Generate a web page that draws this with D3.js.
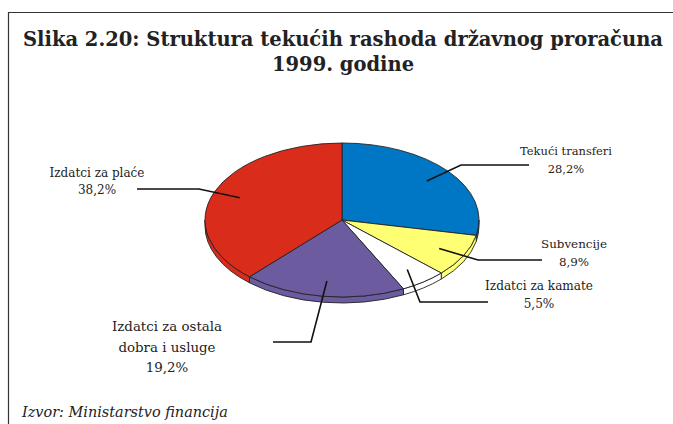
<!DOCTYPE html>
<html>
<head>
<meta charset="utf-8">
<script src="https://cdn.jsdelivr.net/npm/d3@7"></script>
<style>
  html, body { margin: 0; padding: 0; background: #fff; }
  svg { display: block; }
  text { font-family: "DejaVu Serif", serif; }
</style>
</head>
<body>
<svg id="chart" width="673" height="424"></svg>
<script>
// ---- data ----
const categories = ["Tekući transferi", "Subvencije", "Izdatci za kamate", "Izdatci za ostala|dobra i usluge", "Izdatci za plaće"];
const values = [28.2, 8.9, 5.5, 19.2, 38.2];
const valueLabels = ["28,2%", "8,9%", "5,5%", "19,2%", "38,2%"];
const colors = ["#0077C4", "#FFFF73", "#FFFFFF", "#6C5B9F", "#DA2C1B"];
const titleLines = ["Slika 2.20: Struktura tekućih rashoda državnog proračuna", "1999. godine"];
const sourceText = "Izvor: Ministarstvo financija";

// ---- layout ----
const W = 673, H = 424;
const cx = 342, cy = 220, rx = 137, ry = 77, depth = 6;
const layout = [
  { elbow: [461, 165], end: [529, 165], lx: 566, ly: 155, step: 18, tw: 92 },
  { elbow: [478, 260], end: [542, 260], lx: 574, ly: 248, step: 18, tw: 66 },
  { elbow: [420, 302], end: [488, 302], lx: 539, ly: 290, step: 18, tw: 108 },
  { elbow: [311, 342], end: [273, 342], lx: 167, ly: 331, step: 20.5, tw: 110 },
  { elbow: [199, 189], end: [137, 189], lx: 97, ly: 177, step: 17, tw: 95 }
];

const svg = d3.select("#chart");

svg.append("path")
  .attr("d", `M8.5,${H} L8.5,12.5 L${W},12.5`)
  .attr("fill", "none").attr("stroke", "#333").attr("stroke-width", 1.2);

function fit(sel, base, target, lo, hi) {
  const n = sel.select("tspan").node() || sel.node();
  const w = n.getComputedTextLength();
  sel.style("font-size", Math.max(lo, Math.min(hi, base * target / w)) + "px");
}

const title = svg.append("text")
  .attr("text-anchor", "middle")
  .style("font-weight", "bold")
  .style("font-size", "24px")
  .attr("fill", "#222");
title.selectAll("tspan").data(titleLines).join("tspan")
  .attr("x", 343).attr("y", (d, i) => 46 + i * 25)
  .text(d => d);
fit(title, 24, 640, 16, 25);

const pie = d3.pie().sort(null).value(d => d);
const arcs = pie(values);

const pt = (a, dy = 0, k = 1) => [cx + k * rx * Math.sin(a), cy - k * ry * Math.cos(a) + dy];
const f = p => p[0].toFixed(2) + "," + p[1].toFixed(2);

const gSide = svg.append("g");
const gTop = svg.append("g");

arcs.forEach((d, i) => {
  const s0 = Math.max(d.startAngle, Math.PI / 2);
  const s1 = Math.min(d.endAngle, 3 * Math.PI / 2);
  if (s1 > s0) {
    const large = (s1 - s0) > Math.PI ? 1 : 0;
    const p = `M${f(pt(s0))} A${rx},${ry} 0 ${large} 1 ${f(pt(s1))} L${f(pt(s1, depth))} A${rx},${ry} 0 ${large} 0 ${f(pt(s0, depth))} Z`;
    gSide.append("path").attr("d", p)
      .attr("fill", colors[i]).attr("stroke", "#222").attr("stroke-width", 0.9)
      .attr("stroke-linejoin", "round");
  }
  const large = (d.endAngle - d.startAngle) > Math.PI ? 1 : 0;
  const top = `M${cx},${cy} L${f(pt(d.startAngle))} A${rx},${ry} 0 ${large} 1 ${f(pt(d.endAngle))} Z`;
  gTop.append("path").attr("d", top)
    .attr("fill", colors[i]).attr("stroke", "#222").attr("stroke-width", 0.9)
    .attr("stroke-linejoin", "round");
});

const gLab = svg.append("g");
arcs.forEach((d, i) => {
  const L = layout[i];
  const m = (d.startAngle + d.endAngle) / 2;
  const s = pt(m, 0, 0.8);
  gLab.append("polyline")
    .attr("points", [s, L.elbow, L.end].map(f).join(" "))
    .attr("fill", "none").attr("stroke", "#111").attr("stroke-width", 1.6);
  const lines = categories[i].split("|").concat([valueLabels[i]]);
  const t = gLab.append("text")
    .attr("text-anchor", "middle")
    .style("font-size", "14px")
    .attr("fill", "#222");
  t.selectAll("tspan").data(lines).join("tspan")
    .attr("x", L.lx).attr("y", (e, j) => L.ly + j * L.step)
    .text(e => e);
  fit(t, 14, L.tw, 10, 15);
});

const src = svg.append("text")
  .attr("x", 22).attr("y", 417)
  .style("font-style", "italic")
  .style("font-size", "16px")
  .attr("fill", "#222")
  .text(sourceText);
fit(src, 16, 206, 12, 17);
</script>
</body>
</html>
